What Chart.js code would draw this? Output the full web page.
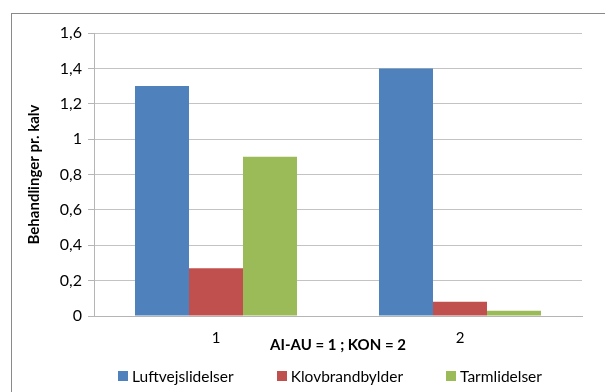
<!DOCTYPE html>
<html>
<head>
<meta charset="utf-8">
<title>Behandlinger pr. kalv</title>
<script src="https://cdn.jsdelivr.net/npm/chart.js@4/dist/chart.umd.min.js"></script>
<style>
  html, body { margin: 0; padding: 0; background: #ffffff; }
  canvas { display: block; }
</style>
</head>
<body>
<canvas id="chart" width="605" height="392"></canvas>
<script>
// Groups on the x axis
const categories = ['1', '2'];

// Treatments per calf, one array per disease group
const luftvejslidelser = [1.30, 1.40];
const klovbrandbylder = [0.27, 0.08];
const tarmlidelser = [0.90, 0.03];

const seriesNames = ['Luftvejslidelser', 'Klovbrandbylder', 'Tarmlidelser'];
const seriesColors = ['#4F81BD', '#C0504D', '#9BBB59'];

// Value axis labels (Danish decimal comma)
const yTickLabels = ['0', '0,2', '0,4', '0,6', '0,8', '1', '1,2', '1,4', '1,6'];

const xTitle = 'AI-AU = 1 ; KON = 2';
const yTitle = 'Behandlinger pr. kalv';

const FONT = 'Lato, "Open Sans", "Liberation Sans", sans-serif';

// Thin grey frame around the whole chart
const framePlugin = {
  id: 'frame',
  beforeDraw(chart) {
    const ctx = chart.ctx;
    ctx.save();
    ctx.strokeStyle = '#8a8a8a';
    ctx.lineWidth = 1;
    ctx.strokeRect(11.5, 13.5, 700, 500);
    ctx.restore();
  }
};

// Legend row under the axis title: square swatch + name, centred
const legendRowPlugin = {
  id: 'legendRow',
  afterDraw(chart) {
    const ctx = chart.ctx;
    const box = 10, textGap = 4, itemGap = 43;
    const centerX = 330, centerY = 376;
    ctx.save();
    ctx.font = '15.5px ' + FONT;
    ctx.textBaseline = 'middle';
    const items = chart.data.datasets.map(ds => ({
      label: ds.label, color: ds.backgroundColor,
      w: box + textGap + ctx.measureText(ds.label).width
    }));
    const total = items.reduce((s, it) => s + it.w, 0) + itemGap * (items.length - 1);
    let x = centerX - total / 2;
    items.forEach(it => {
      ctx.fillStyle = it.color;
      ctx.fillRect(Math.round(x), centerY - box / 2, box, box);
      ctx.fillStyle = '#000000';
      ctx.fillText(it.label, x + box + textGap, centerY + 1);
      x += it.w + itemGap;
    });
    ctx.restore();
  }
};

const datasets = [luftvejslidelser, klovbrandbylder, tarmlidelser].map((vals, i) => ({
  label: seriesNames[i],
  data: vals,
  backgroundColor: seriesColors[i],
  borderWidth: 0,
  categoryPercentage: 0.664,
  barPercentage: 1.0
}));

new Chart(document.getElementById('chart'), {
  type: 'bar',
  data: { labels: categories, datasets },
  plugins: [framePlugin, legendRowPlugin],
  options: {
    responsive: false,
    animation: false,
    layout: { padding: { left: 0, right: 23, top: 33, bottom: 36 } },
    plugins: {
      legend: { display: false },
      tooltip: { enabled: false }
    },
    scales: {
      x: {
        grid: { display: false, drawTicks: false },
        border: { display: true, color: '#b5b5b5' },
        ticks: { color: '#000000', font: { family: FONT, size: 15 }, padding: 13 },
        title: {
          display: true, text: xTitle, color: '#000000',
          font: { family: FONT, size: 15, weight: 'bold' },
          padding: { top: 0, bottom: 2 }
        },
        afterFit(scale) { scale.height = 40; }
      },
      y: {
        min: 0, max: 1.6,
        ticks: {
          stepSize: 0.2, color: '#000000', padding: 6,
          font: { family: FONT, size: 16 },
          callback: (v, i) => yTickLabels[i]
        },
        grid: { color: '#c3c3c3', tickLength: 6, tickColor: '#b5b5b5' },
        border: { display: true, color: '#b5b5b5' },
        title: {
          display: true, text: yTitle, color: '#000000',
          font: { family: FONT, size: 15, weight: 'bold' },
          padding: { top: 25, bottom: 0 }
        },
        afterFit(scale) { scale.width = 94; }
      }
    }
  }
});
</script>
</body>
</html>
